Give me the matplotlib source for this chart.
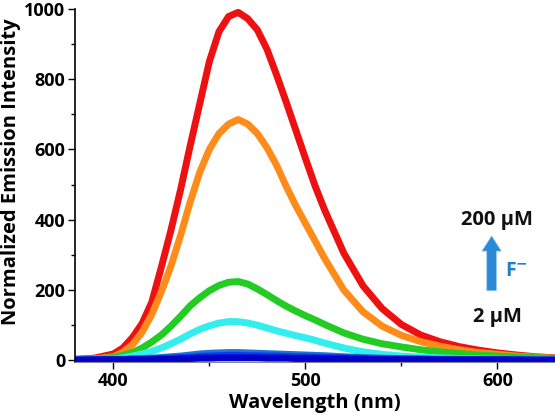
import numpy as np
import matplotlib
matplotlib.use("Agg")
import matplotlib.pyplot as plt

plt.rcParams['font.family'] = ['Open Sans', 'DejaVu Sans']
plt.rcParams['font.weight'] = 'bold'

# emission spectra (nm, a.u.)
wavelength = [380, 390, 400, 405, 410, 415, 420, 425, 430, 435, 440, 445, 450,
              455, 460, 465, 470, 475, 480, 485, 490, 495, 500, 505, 510, 520,
              530, 540, 550, 560, 570, 580, 590, 600, 610, 620, 630]

red = [3, 6, 18, 35, 65, 105, 165, 265, 370, 485, 610, 730, 850,
       935, 978, 990, 972, 940, 885, 812, 735, 655, 575, 497, 428, 305,
       212, 147, 102, 72, 53, 39, 29, 21, 15, 10, 7]
orange = [2, 4, 10, 23, 45, 80, 130, 195, 268, 355, 450, 535, 600,
          645, 672, 685, 672, 645, 605, 555, 495, 440, 390, 340, 290, 200,
          138, 97, 71, 53, 40, 30, 22, 17, 12, 9, 6]
green = [1, 3, 8, 14, 22, 35, 52, 72, 97, 125, 155, 178, 198,
         213, 222, 224, 217, 203, 187, 170, 154, 140, 127, 115, 102, 78,
         60, 47, 38, 30, 24, 19, 15, 12, 9, 7, 5]
cyan = [1, 2, 4, 7, 12, 18, 25, 35, 47, 60, 75, 88, 98,
        106, 110, 110, 106, 100, 92, 84, 77, 70, 64, 57, 49, 35,
        24, 17, 12, 9, 7, 5, 4, 3, 2, 2, 1]
steel = [1, 2, 3, 3, 4, 5, 6, 8, 10, 12, 15, 18, 20,
         21, 22, 22, 21, 20, 19, 18, 17, 16, 15, 14, 13, 10,
         8, 6, 5, 4, 3, 3, 2, 2, 2, 1, 1]
blue = [1, 1, 2, 2, 3, 3, 4, 5, 6, 8, 9, 11, 12,
        13, 14, 14, 13, 13, 12, 12, 11, 10, 10, 9, 8, 7,
        5, 4, 3, 3, 2, 2, 2, 1, 1, 1, 1]
navy = [0, 1, 1, 1, 2, 2, 2, 3, 3, 4, 5, 6, 6,
        7, 7, 7, 7, 7, 6, 6, 6, 5, 5, 5, 4, 4,
        3, 2, 2, 2, 1, 1, 1, 1, 1, 0, 0]

series = [red, orange, green, cyan, steel, blue, navy]
colors = ['#ee1111', '#ff8c1a', '#22cc22', '#33eeee', '#1e78d2', '#0a3cf0', '#0000c8']

fig = plt.figure(figsize=(5.55, 4.2), dpi=100)
ax = fig.add_axes([0.135, 0.138, 0.865, 0.841])

for vals, c in zip(series, colors):
    ax.plot(wavelength, vals, color=c, lw=5, solid_joinstyle='round')

ax.set_xlim(380, 630)
ax.set_ylim(-5, 1000)
ax.set_xticks([400, 500, 600])
ax.set_xticks([450, 550], minor=True)
ax.set_yticks(range(0, 1001, 200))
ax.set_yticks(range(100, 1000, 200), minor=True)
ax.tick_params(axis='both', which='major', direction='out', length=5, width=1,
               labelsize=13, pad=2)
ax.tick_params(axis='both', which='minor', direction='out', length=3, width=1)
for lab in ax.get_xticklabels() + ax.get_yticklabels():
    lab.set_fontweight('bold')

ax.spines['top'].set_visible(False)
ax.spines['right'].set_visible(False)
ax.spines['bottom'].set_color('#888888')
ax.spines['left'].set_linewidth(1.2)

ax.set_xlabel('Wavelength (nm)', fontsize=14.5, fontweight='bold', labelpad=2)
ax.set_ylabel('Normalized Emission Intensity', fontsize=14.5, fontweight='bold',
              labelpad=2, y=0.54)

ax.text(600, 400, '200 µM', fontsize=14.5, fontweight='bold', ha='center',
        va='center', color='#111111')
ax.text(600, 124, '2 µM', fontsize=14.5, fontweight='bold', ha='center',
        va='center', color='#111111')
ax.annotate('', xy=(597, 362), xytext=(597, 190),
            arrowprops=dict(arrowstyle='simple,head_width=1.4,head_length=1.1,tail_width=0.7',
                            color='#2b8ad6', ec='#9cc8ee', lw=0.5))
ax.text(610, 255, r'F$^{\mathbf{-}}$', fontsize=14, fontweight='bold',
        ha='center', va='center', color='#2080c8')

fig.savefig('out.png', dpi=100)
